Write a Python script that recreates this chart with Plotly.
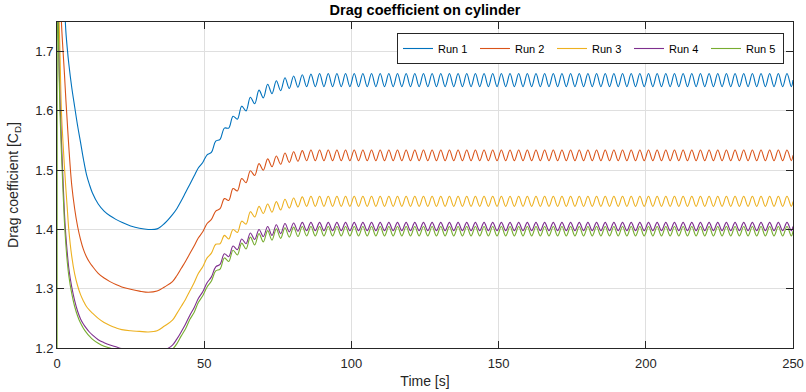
import plotly.graph_objects as go

# ---------------- data ----------------
# Start-up transient sample times [s]
time_transient = [0, 0.1, 0.25, 0.5, 1, 1.5, 2, 2.5, 3, 3.5, 4, 5, 6, 7, 8, 9, 10,
                  11, 12, 14, 16, 18, 20, 22, 25, 28, 31, 34, 36.5]

# Shedding phase: sample times at successive peaks / troughs [s]
time_wave = [
    39.22, 40.69, 42.16, 43.63, 45.10, 46.57,
    48.04, 49.51, 50.98, 52.45, 53.92, 55.39, 56.86, 58.33, 59.80, 61.27,
    62.74, 64.21, 65.68, 67.15, 68.62, 70.09, 71.56, 73.03, 74.50, 75.97,
    77.44, 78.91, 80.38, 81.85, 83.32, 84.79, 86.26, 87.73, 89.20, 90.67,
    92.14, 93.61, 95.08, 96.55, 98.02, 99.49, 100.96, 102.43, 103.90, 105.37,
    106.84, 108.31, 109.78, 111.25, 112.72, 114.19, 115.66, 117.13, 118.60, 120.07,
    121.54, 123.01, 124.48, 125.95, 127.42, 128.89, 130.36, 131.83, 133.30, 134.77,
    136.24, 137.71, 139.18, 140.65, 142.12, 143.59, 145.06, 146.53, 148.00, 149.47,
    150.94, 152.41, 153.88, 155.35, 156.82, 158.29, 159.76, 161.23, 162.70, 164.17,
    165.64, 167.11, 168.58, 170.05, 171.52, 172.99, 174.46, 175.93, 177.40, 178.87,
    180.34, 181.81, 183.28, 184.75, 186.22, 187.69, 189.16, 190.63, 192.10, 193.57,
    195.04, 196.51, 197.98, 199.45, 200.92, 202.39, 203.86, 205.33, 206.80, 208.27,
    209.74, 211.21, 212.68, 214.15, 215.62, 217.09, 218.56, 220.03, 221.50, 222.97,
    224.44, 225.91, 227.38, 228.85, 230.32, 231.79, 233.26, 234.73, 236.20, 237.67,
    239.14, 240.61, 242.08, 243.55, 245.02, 246.49, 247.96, 249.43, 250.00,
]

run_names = ["Run 1", "Run 2", "Run 3", "Run 4", "Run 5"]

run1_transient = [2.40, 2.37, 2.33, 2.25, 2.10, 1.98, 1.87, 1.79, 1.735, 1.705, 1.68,
                  1.64, 1.607, 1.575, 1.547, 1.518, 1.493, 1.476, 1.462, 1.443, 1.431,
                  1.423, 1.417, 1.412, 1.406, 1.402, 1.400, 1.401, 1.410]
run1_wave = [
    1.425, 1.435, 1.448, 1.462, 1.476, 1.490,
    1.504, 1.513, 1.526, 1.530, 1.549, 1.552, 1.571, 1.571, 1.591, 1.586,
    1.608, 1.600, 1.623, 1.612, 1.635, 1.622, 1.645, 1.629, 1.651, 1.634,
    1.656, 1.638, 1.659, 1.640, 1.661, 1.641, 1.662, 1.641, 1.663, 1.641,
    1.663, 1.641, 1.663, 1.641, 1.663, 1.641, 1.663, 1.641, 1.663, 1.641,
    1.663, 1.641, 1.663, 1.641, 1.663, 1.641, 1.663, 1.641, 1.663, 1.641,
    1.663, 1.641, 1.663, 1.641, 1.663, 1.641, 1.663, 1.641, 1.663, 1.641,
    1.663, 1.641, 1.663, 1.641, 1.663, 1.641, 1.663, 1.641, 1.663, 1.641,
    1.663, 1.641, 1.663, 1.641, 1.663, 1.641, 1.663, 1.641, 1.663, 1.641,
    1.663, 1.641, 1.663, 1.641, 1.663, 1.641, 1.663, 1.641, 1.663, 1.641,
    1.663, 1.641, 1.663, 1.641, 1.663, 1.641, 1.663, 1.641, 1.663, 1.641,
    1.663, 1.641, 1.663, 1.641, 1.663, 1.641, 1.663, 1.641, 1.663, 1.641,
    1.663, 1.641, 1.663, 1.641, 1.663, 1.641, 1.663, 1.641, 1.663, 1.641,
    1.663, 1.641, 1.663, 1.641, 1.663, 1.641, 1.663, 1.641, 1.663, 1.641,
    1.663, 1.641, 1.663, 1.641, 1.663, 1.641, 1.663, 1.641, 1.652,
]

run2_transient = [2.10, 2.07, 2.03, 1.95, 1.83, 1.75, 1.705, 1.665, 1.62, 1.58, 1.54,
                  1.475, 1.435, 1.405, 1.383, 1.366, 1.354, 1.345, 1.338, 1.326, 1.318,
                  1.312, 1.307, 1.303, 1.299, 1.296, 1.294, 1.296, 1.303]
run2_wave = [
    1.312, 1.322, 1.334, 1.346, 1.359, 1.372,
    1.386, 1.396, 1.410, 1.417, 1.431, 1.435, 1.452, 1.449, 1.469, 1.465,
    1.486, 1.479, 1.499, 1.491, 1.511, 1.500, 1.519, 1.506, 1.524, 1.510,
    1.529, 1.513, 1.531, 1.515, 1.533, 1.516, 1.534, 1.516, 1.534, 1.516,
    1.534, 1.516, 1.534, 1.516, 1.534, 1.516, 1.534, 1.516, 1.534, 1.516,
    1.534, 1.516, 1.534, 1.516, 1.534, 1.516, 1.534, 1.516, 1.534, 1.516,
    1.534, 1.516, 1.534, 1.516, 1.534, 1.516, 1.534, 1.516, 1.534, 1.516,
    1.534, 1.516, 1.534, 1.516, 1.534, 1.516, 1.534, 1.516, 1.534, 1.516,
    1.534, 1.516, 1.534, 1.516, 1.534, 1.516, 1.534, 1.516, 1.534, 1.516,
    1.534, 1.516, 1.534, 1.516, 1.534, 1.516, 1.534, 1.516, 1.534, 1.516,
    1.534, 1.516, 1.534, 1.516, 1.534, 1.516, 1.534, 1.516, 1.534, 1.516,
    1.534, 1.516, 1.534, 1.516, 1.534, 1.516, 1.534, 1.516, 1.534, 1.516,
    1.534, 1.516, 1.534, 1.516, 1.534, 1.516, 1.534, 1.516, 1.534, 1.516,
    1.534, 1.516, 1.534, 1.516, 1.534, 1.516, 1.534, 1.516, 1.534, 1.516,
    1.534, 1.516, 1.534, 1.516, 1.534, 1.516, 1.534, 1.516, 1.525,
]

run3_transient = [1.95, 1.92, 1.88, 1.80, 1.70, 1.60, 1.55, 1.508, 1.47, 1.435, 1.40,
                  1.355, 1.325, 1.305, 1.29, 1.279, 1.27, 1.264, 1.259, 1.250, 1.243,
                  1.238, 1.234, 1.231, 1.229, 1.228, 1.227, 1.229, 1.237]
run3_wave = [
    1.247, 1.258, 1.270, 1.282, 1.296, 1.310,
    1.326, 1.337, 1.352, 1.360, 1.375, 1.376, 1.390, 1.384, 1.400, 1.395,
    1.414, 1.409, 1.430, 1.421, 1.439, 1.427, 1.443, 1.429, 1.447, 1.433,
    1.451, 1.436, 1.453, 1.438, 1.455, 1.439, 1.456, 1.439, 1.456, 1.439,
    1.456, 1.439, 1.456, 1.439, 1.456, 1.439, 1.456, 1.439, 1.456, 1.439,
    1.456, 1.439, 1.456, 1.439, 1.456, 1.439, 1.456, 1.439, 1.456, 1.439,
    1.456, 1.439, 1.456, 1.439, 1.456, 1.439, 1.456, 1.439, 1.456, 1.439,
    1.456, 1.439, 1.456, 1.439, 1.456, 1.439, 1.456, 1.439, 1.456, 1.439,
    1.456, 1.439, 1.456, 1.439, 1.456, 1.439, 1.456, 1.439, 1.456, 1.439,
    1.456, 1.439, 1.456, 1.439, 1.456, 1.439, 1.456, 1.439, 1.456, 1.439,
    1.456, 1.439, 1.456, 1.439, 1.456, 1.439, 1.456, 1.439, 1.456, 1.439,
    1.456, 1.439, 1.456, 1.439, 1.456, 1.439, 1.456, 1.439, 1.456, 1.439,
    1.456, 1.439, 1.456, 1.439, 1.456, 1.439, 1.456, 1.439, 1.456, 1.439,
    1.456, 1.439, 1.456, 1.439, 1.456, 1.439, 1.456, 1.439, 1.456, 1.439,
    1.456, 1.439, 1.456, 1.439, 1.456, 1.439, 1.456, 1.439, 1.447,
]

run4_transient = [1.90, 1.86, 1.80, 1.73, 1.62, 1.55, 1.49, 1.43, 1.39, 1.36, 1.335,
                  1.303, 1.28, 1.262, 1.249, 1.240, 1.233, 1.227, 1.222, 1.214, 1.209,
                  1.205, 1.202, 1.199, 1.195, 1.192, 1.190, 1.191, 1.196]
run4_wave = [
    1.205, 1.215, 1.227, 1.240, 1.255, 1.268,
    1.284, 1.295, 1.310, 1.320, 1.337, 1.341, 1.359, 1.354, 1.372, 1.366,
    1.384, 1.376, 1.394, 1.383, 1.400, 1.388, 1.405, 1.390, 1.408, 1.393,
    1.410, 1.396, 1.411, 1.397, 1.412, 1.398, 1.412, 1.398, 1.412, 1.398,
    1.412, 1.398, 1.412, 1.398, 1.412, 1.398, 1.412, 1.398, 1.412, 1.398,
    1.412, 1.398, 1.412, 1.398, 1.412, 1.398, 1.412, 1.398, 1.412, 1.398,
    1.412, 1.398, 1.412, 1.398, 1.412, 1.398, 1.412, 1.398, 1.412, 1.398,
    1.412, 1.398, 1.412, 1.398, 1.412, 1.398, 1.412, 1.398, 1.412, 1.398,
    1.412, 1.398, 1.412, 1.398, 1.412, 1.398, 1.412, 1.398, 1.412, 1.398,
    1.412, 1.398, 1.412, 1.398, 1.412, 1.398, 1.412, 1.398, 1.412, 1.398,
    1.412, 1.398, 1.412, 1.398, 1.412, 1.398, 1.412, 1.398, 1.412, 1.398,
    1.412, 1.398, 1.412, 1.398, 1.412, 1.398, 1.412, 1.398, 1.412, 1.398,
    1.412, 1.398, 1.412, 1.398, 1.412, 1.398, 1.412, 1.398, 1.412, 1.398,
    1.412, 1.398, 1.412, 1.398, 1.412, 1.398, 1.412, 1.398, 1.412, 1.398,
    1.412, 1.398, 1.412, 1.398, 1.412, 1.398, 1.412, 1.398, 1.405,
]

run5_transient = [0.90, 2.00, 1.80, 1.72, 1.60, 1.53, 1.47, 1.415, 1.375, 1.345, 1.322,
                  1.292, 1.27, 1.254, 1.242, 1.233, 1.226, 1.22, 1.215, 1.208, 1.203,
                  1.200, 1.197, 1.194, 1.190, 1.187, 1.185, 1.186, 1.190]
run5_wave = [
    1.198, 1.207, 1.220, 1.232, 1.248, 1.260,
    1.277, 1.288, 1.303, 1.313, 1.330, 1.333, 1.352, 1.346, 1.365, 1.357,
    1.377, 1.367, 1.387, 1.374, 1.393, 1.379, 1.398, 1.382, 1.401, 1.385,
    1.403, 1.387, 1.404, 1.388, 1.405, 1.389, 1.405, 1.389, 1.405, 1.389,
    1.405, 1.389, 1.405, 1.389, 1.405, 1.389, 1.405, 1.389, 1.405, 1.389,
    1.405, 1.389, 1.405, 1.389, 1.405, 1.389, 1.405, 1.389, 1.405, 1.389,
    1.405, 1.389, 1.405, 1.389, 1.405, 1.389, 1.405, 1.389, 1.405, 1.389,
    1.405, 1.389, 1.405, 1.389, 1.405, 1.389, 1.405, 1.389, 1.405, 1.389,
    1.405, 1.389, 1.405, 1.389, 1.405, 1.389, 1.405, 1.389, 1.405, 1.389,
    1.405, 1.389, 1.405, 1.389, 1.405, 1.389, 1.405, 1.389, 1.405, 1.389,
    1.405, 1.389, 1.405, 1.389, 1.405, 1.389, 1.405, 1.389, 1.405, 1.389,
    1.405, 1.389, 1.405, 1.389, 1.405, 1.389, 1.405, 1.389, 1.405, 1.389,
    1.405, 1.389, 1.405, 1.389, 1.405, 1.389, 1.405, 1.389, 1.405, 1.389,
    1.405, 1.389, 1.405, 1.389, 1.405, 1.389, 1.405, 1.389, 1.405, 1.389,
    1.405, 1.389, 1.405, 1.389, 1.405, 1.389, 1.405, 1.389, 1.397,
]

x_ticks = [0, 50, 100, 150, 200, 250]
y_ticks = [1.2, 1.3, 1.4, 1.5, 1.6, 1.7]
y_tick_labels = ["1.2", "1.3", "1.4", "1.5", "1.6", "1.7"]

colors = ["#0072BD", "#D95319", "#EDB120", "#7E2F8E", "#77AC30"]

# ---------------- figure ----------------
time_all = time_transient + time_wave
series = [
    run1_transient + run1_wave,
    run2_transient + run2_wave,
    run3_transient + run3_wave,
    run4_transient + run4_wave,
    run5_transient + run5_wave,
]

FONT = "Liberation Sans, Arial, Helvetica, sans-serif"
AX = "#262626"

fig = go.Figure()
for name, ys, col in zip(run_names, series, colors):
    fig.add_trace(go.Scatter(
        x=time_all, y=ys, name=name, mode="lines",
        line=dict(color=col, width=1.1, shape="spline", smoothing=1.0),
    ))

fig.update_layout(
    width=806, height=392,
    margin=dict(l=57, r=13, t=22, b=44),
    paper_bgcolor="white", plot_bgcolor="white",
    font=dict(family=FONT, size=13, color=AX),
    title=dict(text="<b>Drag coefficient on cylinder</b>", x=0.5, xref="paper",
               xanchor="center", y=1 - 10 / 392, yref="container", yanchor="middle",
               font=dict(size=14.5, color="#000000")),
    legend=dict(orientation="h", x=(784 - 57) / 736, xanchor="right",
                y=(348 - 33) / 326, yanchor="top",
                bgcolor="white", bordercolor=AX, borderwidth=1,
                font=dict(size=11, color="#000000"),
                itemwidth=30, tracegroupgap=0,
                entrywidth=32, entrywidthmode="pixels"),
    showlegend=True,
)

fig.update_xaxes(
    range=[0, 250], tickvals=x_ticks, ticktext=[str(v) for v in x_ticks],
    ticks="inside", ticklen=7, tickcolor=AX, tickwidth=1,
    showline=True, linecolor=AX, linewidth=1, mirror="ticks",
    showgrid=True, gridcolor="#dfdfdf", gridwidth=1, zeroline=False,
    tickfont=dict(size=13, color=AX), ticklabelstandoff=3,
    automargin=False,
    title=dict(text="Time [s]", font=dict(size=14, color=AX), standoff=6),
)
fig.update_yaxes(
    range=[1.2, 1.75], tickvals=y_ticks, ticktext=y_tick_labels,
    ticks="inside", ticklen=7, tickcolor=AX, tickwidth=1,
    showline=True, linecolor=AX, linewidth=1, mirror="ticks",
    showgrid=True, gridcolor="#dfdfdf", gridwidth=1, zeroline=False,
    tickfont=dict(size=13, color=AX), automargin=False,
    title=dict(text="Drag coefficient [C<sub>D</sub>]", font=dict(size=14, color=AX),
               standoff=13),
)

fig.write_html("out.html")
